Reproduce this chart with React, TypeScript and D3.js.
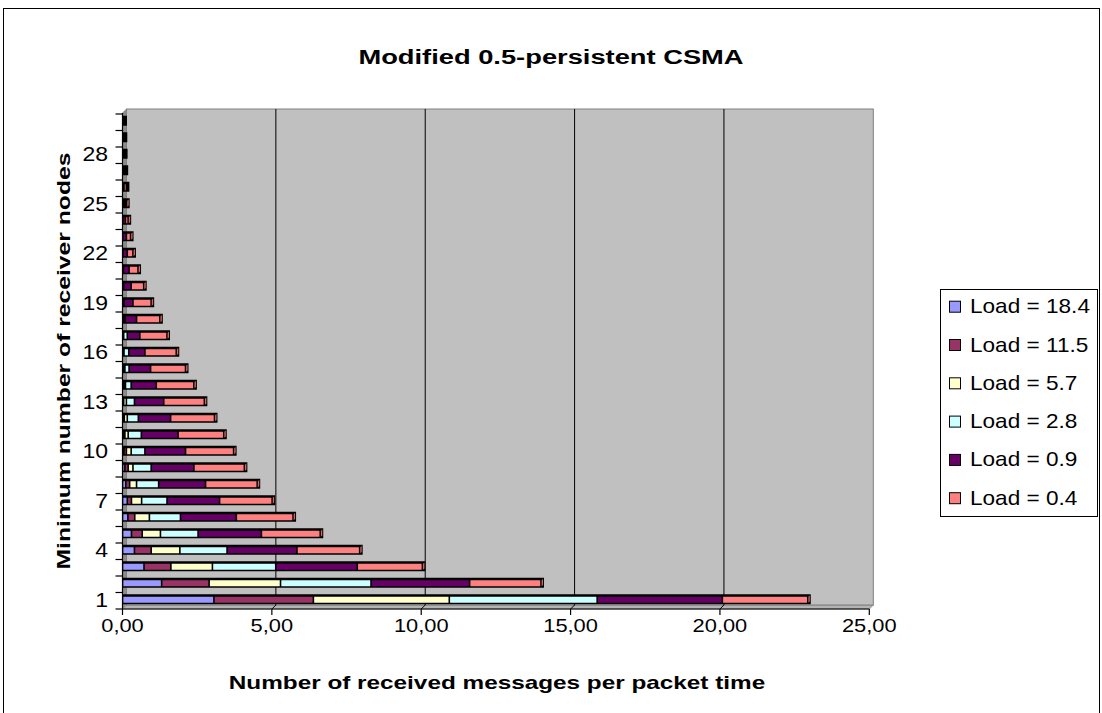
import React from "react";
import * as d3 from "d3";

const categories = Array.from({ length: 30 }, (_, i) => String(i + 1));
const seriesNames = ["Load = 18.4", "Load = 11.5", "Load = 5.7", "Load = 2.8", "Load = 0.9", "Load = 0.4"];
const seriesColors = ["#9999FF", "#993366", "#FFFFCC", "#CCFFFF", "#660066", "#FF8080"];

const load184 = [3.06, 1.31, 0.72, 0.40, 0.30, 0.18, 0.16, 0.11, 0.08, 0.05, 0.03, 0.02, 0.01, 0.01, 0.01, 0, 0, 0, 0, 0, 0, 0, 0, 0, 0, 0, 0, 0, 0, 0];
const load115 = [3.33, 1.59, 0.90, 0.56, 0.36, 0.23, 0.14, 0.13, 0.11, 0.08, 0.05, 0.04, 0.03, 0.02, 0.02, 0.01, 0.01, 0.01, 0, 0, 0, 0, 0, 0, 0, 0, 0, 0, 0, 0];
const load57 = [4.55, 2.39, 1.39, 0.96, 0.61, 0.49, 0.34, 0.23, 0.16, 0.16, 0.11, 0.10, 0.09, 0.07, 0.05, 0.04, 0.03, 0.02, 0.01, 0.01, 0.01, 0, 0, 0, 0, 0, 0, 0, 0, 0];
const load28 = [4.95, 3.03, 2.12, 1.58, 1.26, 1.04, 0.85, 0.74, 0.61, 0.46, 0.44, 0.37, 0.27, 0.19, 0.14, 0.16, 0.12, 0.06, 0.04, 0.03, 0.02, 0.01, 0.01, 0.01, 0, 0, 0, 0, 0, 0];
const load09 = [4.19, 3.30, 2.73, 2.34, 2.12, 1.87, 1.76, 1.57, 1.43, 1.36, 1.23, 1.08, 0.98, 0.84, 0.72, 0.54, 0.42, 0.38, 0.30, 0.25, 0.19, 0.15, 0.12, 0.09, 0.07, 0.05, 0.04, 0.03, 0.02, 0.02];
const load04 = [2.86, 2.39, 2.18, 2.10, 1.97, 1.90, 1.76, 1.73, 1.69, 1.61, 1.53, 1.47, 1.36, 1.26, 1.17, 1.05, 0.91, 0.78, 0.61, 0.42, 0.30, 0.19, 0.14, 0.09, 0.07, 0.08, 0.05, 0.04, 0.04, 0.03];
const xTicks = [0, 5, 10, 15, 20, 25];
const yLabelCats = ["1", "4", "7", "10", "13", "16", "19", "22", "25", "28"];

const FONT = "'Liberation Sans', Arial, sans-serif";

function T({ x, y, sx = 1, rot = 0, children, ...rest }: any) {
  return (
    <text transform={`translate(${x},${y}) rotate(${rot}) scale(${sx},1)`} fontFamily={FONT} {...rest}>
      {children}
    </text>
  );
}

export default function App() {
  const W = 1102, H = 713;
  const fx0 = 122.5, fx1 = 869.3, fyB = 609, fyT = 114;
  const dx = 4, dy = -4;

  const x = d3.scaleLinear().domain([0, 25]).range([fx0, fx1]);
  const y = d3.scaleBand().domain(categories).range([fyB, fyT]);
  const bw = y.bandwidth();

  const rows = categories.map((c, i) => ({
    cat: c,
    s0: load184[i], s1: load115[i], s2: load57[i], s3: load28[i], s4: load09[i], s5: load04[i],
  }));
  const keys = ["s0", "s1", "s2", "s3", "s4", "s5"];
  const stacked = d3.stack<any>().keys(keys)(rows);

  const wallL = fx0 + dx, wallR = fx1 + dx, wallT = fyT + dy - 1, wallB = fyB + dy;

  const legendX = 940, legendY = 289, legendW = 157, legendH = 227;

  return (
    <svg width={W} height={H} style={{ position: "absolute", left: 0, top: 0 }}>
      <rect x={0} y={0} width={W} height={H} fill="#fff" />
      <rect x={3.5} y={8.5} width={1096} height={720} fill="#fff" stroke="#000" strokeWidth={1} />

      <T x={551} y={64} sx={1.3} textAnchor="middle" fontSize={21} fontWeight="bold">Modified 0.5-persistent CSMA</T>

      {/* walls */}
      <polygon points={`${fx0},${fyT - 1} ${wallL},${wallT} ${wallL},${wallB} ${fx0},${fyB}`} fill="#8C8C8C" stroke="#808080" strokeWidth={0.8} />
      <polygon points={`${fx0},${fyB} ${wallL},${wallB} ${wallR},${wallB} ${fx1},${fyB}`} fill="#B4B4B4" stroke="#808080" strokeWidth={0.8} />
      <rect x={wallL} y={wallT} width={wallR - wallL} height={wallB - wallT} fill="#C0C0C0" stroke="#808080" strokeWidth={1} />

      {/* gridlines */}
      {xTicks.slice(1, -1).map((t) => (
        <g key={t}>
          <line x1={x(t) + dx} x2={x(t) + dx} y1={wallT} y2={wallB} stroke="#000" strokeWidth={1} />
          <line x1={x(t) + dx} x2={x(t)} y1={wallB} y2={fyB} stroke="#000" strokeWidth={1} />
        </g>
      ))}

      {/* bars */}
      {categories.map((c, i) => {
        const yc = (y(c) as number) + bw / 2 - 1;
        const total = stacked[5][i][1];
        const xs = x(0), xe = x(total);
        return (
          <g key={c}>
            <rect x={xs - 0.5} y={yc - 5.5} width={xe - xs + 3.5} height={10} fill="#000" />
            {stacked.map((s, k) => {
              const a = x(s[i][0]) + 0.8, b = x(s[i][1]) - 0.8;
              if (b - a < 0.6) return null;
              return <rect key={k} x={a} y={yc - 3} width={b - a} height={6} fill={seriesColors[k]} />;
            })}
            {xe - xs > 4 && (
              <polygon points={`${xe + 0.6},${yc - 3} ${xe + 2},${yc - 4.2} ${xe + 2},${yc + 1.8} ${xe + 0.6},${yc + 3}`} fill={seriesColors[5]} opacity={0.8} />
            )}
          </g>
        );
      })}

      {/* axes */}
      <line x1={fx0} x2={fx0} y1={fyT - 1} y2={fyB} stroke="#000" strokeWidth={1.2} />
      <line x1={fx0} x2={fx1} y1={fyB} y2={fyB} stroke="#000" strokeWidth={1.2} />
      {xTicks.map((t) => (
        <g key={t}>
          <line x1={x(t)} x2={x(t)} y1={fyB} y2={fyB + 6} stroke="#000" strokeWidth={1.2} />
          <T x={x(t)} y={632} sx={1.15} textAnchor="middle" fontSize={19}>{d3.format(".2f")(t).replace(".", ",")}</T>
        </g>
      ))}
      {d3.range(31).map((k) => (
        <line key={k} x1={fx0 - 7} x2={fx0} y1={fyB - k * bw} y2={fyB - k * bw} stroke="#000" strokeWidth={1.2} />
      ))}
      {yLabelCats.map((c) => (
        <T key={c} x={108} y={(y(c) as number) + bw / 2 - 1} sx={1.15} textAnchor="end" dominantBaseline="central" fontSize={20}>{c}</T>
      ))}

      <T x={497} y={689} sx={1.28} textAnchor="middle" fontSize={19} fontWeight="bold">Number of received messages per packet time</T>
      <T x={70} y={361} sx={1.3} rot={-90} textAnchor="middle" fontSize={19} fontWeight="bold">Minimum number of receiver nodes</T>

      {/* legend */}
      <rect x={legendX + 0.5} y={legendY + 0.5} width={legendW} height={legendH} fill="#fff" stroke="#000" strokeWidth={1} />
      {seriesNames.map((n, k) => {
        const cy = 306.7 + k * 38.3;
        return (
          <g key={n}>
            <rect x={949.5} y={cy - 5.5} width={11} height={11} fill={seriesColors[k]} stroke="#000" strokeWidth={1} />
            <T x={970} y={cy} sx={1.13} dominantBaseline="central" fontSize={20}>{n}</T>
          </g>
        );
      })}
    </svg>
  );
}
